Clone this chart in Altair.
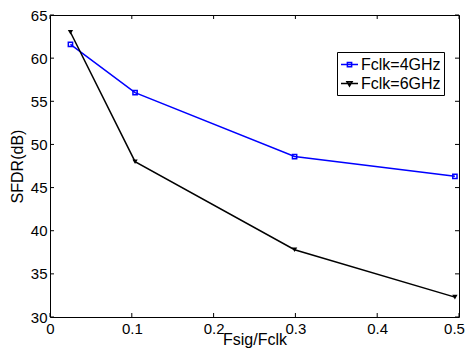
import altair as alt
import pandas as pd

series_names = ["Fclk=4GHz", "Fclk=6GHz"]
series_colors = ["#0000ff", "#000000"]
x_vals = [0.025, 0.104, 0.299, 0.495]
sfdr_4g = [61.6, 56.0, 48.6, 46.3]
sfdr_6g = [63.0, 48.0, 37.8, 32.3]
x_ticks = [0, 0.1, 0.2, 0.3, 0.4, 0.5]
y_ticks = [30, 35, 40, 45, 50, 55, 60, 65]
legend_paths = [
    "M-1,0H1M-0.25,-0.25H0.25V0.25H-0.25Z",
    "M-1,0H1M-0.3,-0.22L0.3,-0.22L0,0.3Z",
]

df = pd.DataFrame({
    "x": x_vals * 2,
    "y": sfdr_4g + sfdr_6g,
    "series": [series_names[0]] * 4 + [series_names[1]] * 4,
})
xt = pd.DataFrame({"t": x_ticks})
yt = pd.DataFrame({"t": y_ticks})

W, H = 409, 302
FONT = "Liberation Sans"

xscale = alt.Scale(domain=[0, 0.5], nice=False, zero=False)
yscale = alt.Scale(domain=[30, 65], nice=False, zero=False)

xaxis = alt.Axis(values=x_ticks, format="~g", title="Fsig/Fclk", labelFlush=False,
                 labelOverlap=False, labelPadding=4, titleBaseline="alphabetic", titleY=27,
                 labelOffset=alt.expr("datum.value >= 0.5 ? -5 : 0"))
yaxis = alt.Axis(values=y_ticks, title="SFDR(dB)", labelFlush=False, labelOverlap=False,
                 labelPadding=3, titleX=-33, titleY=151, titleAlign="center",
                 titleBaseline="middle", titleAngle=270)

base = alt.Chart(df)
X = alt.X("x:Q", scale=xscale, axis=xaxis)
Y = alt.Y("y:Q", scale=yscale, axis=yaxis)

line4 = base.transform_filter(alt.datum.series == series_names[0]).mark_line(
    color=series_colors[0], strokeWidth=1.5).encode(x=X, y=Y)
line6 = base.transform_filter(alt.datum.series == series_names[1]).mark_line(
    color=series_colors[1], strokeWidth=1.5).encode(x=X, y=Y)
pt4 = base.transform_filter(alt.datum.series == series_names[0]).mark_point(
    shape="square", filled=False, size=18, strokeWidth=1.5, color=series_colors[0], opacity=1).encode(x=X, y=Y)
pt6 = base.transform_filter(alt.datum.series == series_names[1]).mark_point(
    shape="triangle-down", filled=True, size=28, color=series_colors[1], opacity=1).encode(x=X, y=Y)

leg = alt.Legend(title=None, orient="none", legendX=287, legendY=37, symbolSize=289,
                 symbolStrokeWidth=1.5, symbolOpacity=1, labelFontSize=16, labelFont=FONT,
                 labelColor="black", labelOffset=2, padding=3, rowPadding=1,
                 strokeColor="black", fillColor="white", cornerRadius=0)
legend_layer = base.mark_point(filled=False, opacity=0).encode(
    x=X, y=Y,
    color=alt.Color("series:N", scale=alt.Scale(domain=series_names, range=series_colors), legend=leg),
    shape=alt.Shape("series:N", scale=alt.Scale(domain=series_names, range=legend_paths), legend=leg),
)

TK = dict(color="black", size=4, thickness=1, opacity=1)
tick_x_bottom = alt.Chart(xt).mark_tick(orient="vertical", **TK).encode(
    x=alt.X("t:Q", scale=xscale, axis=xaxis), y=alt.value(H - 2))
tick_x_top = alt.Chart(xt).mark_tick(orient="vertical", **TK).encode(
    x=alt.X("t:Q", scale=xscale, axis=xaxis), y=alt.value(2))
tick_y_left = alt.Chart(yt).mark_tick(orient="horizontal", **TK).encode(
    y=alt.Y("t:Q", scale=yscale, axis=yaxis), x=alt.value(2))
tick_y_right = alt.Chart(yt).mark_tick(orient="horizontal", **TK).encode(
    y=alt.Y("t:Q", scale=yscale, axis=yaxis), x=alt.value(W - 2))

chart = alt.layer(
    tick_x_bottom, tick_x_top, tick_y_left, tick_y_right,
    line4, line6, pt4, pt6, legend_layer,
).properties(
    width=W, height=H,
    background="white",
    autosize=alt.AutoSizeParams(type="none"),
    padding={"left": 42, "top": 7, "right": 6, "bottom": 31},
).configure_view(
    stroke="black", strokeWidth=1
).configure_axis(
    grid=False, ticks=False, domain=False,
    labelFont=FONT, labelFontSize=15, labelColor="black",
    titleFont=FONT, titleFontSize=16, titleFontWeight="normal", titleColor="black",
)

chart.save("out.html", embed_options={"renderer": "svg", "actions": False})
